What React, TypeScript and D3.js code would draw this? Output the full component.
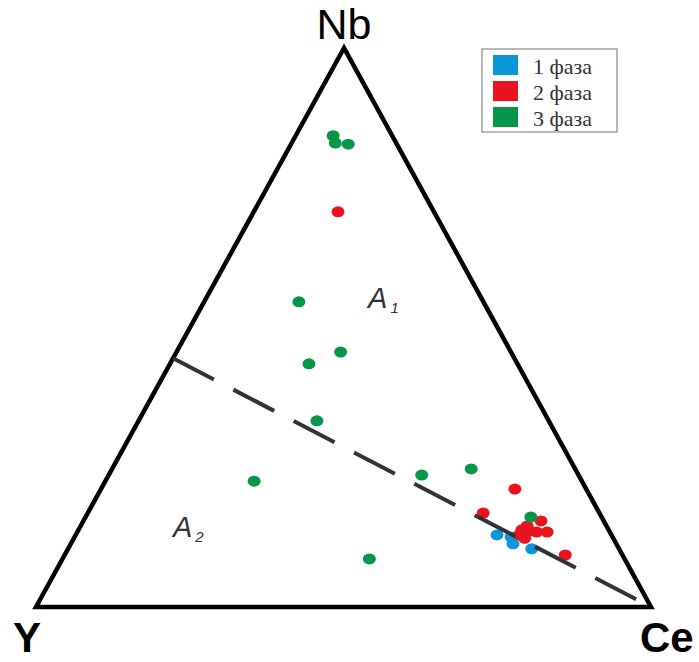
import React from 'react';
import * as d3 from 'd3';

// вершины треугольника Y - Nb - Ce
const vertexLabels = ['Nb', 'Y', 'Ce'];
const seriesNames = ['1 фаза', '2 фаза', '3 фаза'];
const seriesColors = ['#0b96d9', '#e8131d', '#06964a'];

// точки в процентах: [Nb, Ce, Y]
const phase1: number[][] = [
  [12.9, 68.5, 18.6],
  [12.5, 71.0, 16.5],
  [11.3, 71.9, 16.8],
  [10.4, 75.4, 14.2]
];
const phase2: number[][] = [
  [70.7, 13.7, 15.6],
  [21.1, 67.3, 11.6],
  [16.8, 64.3, 18.9],
  [15.4, 74.4, 10.2],
  [13.4, 76.4, 10.2],
  [13.8, 72.1, 14.1],
  [14.5, 72.6, 12.9],
  [12.9, 72.1, 15.0],
  [12.3, 73.3, 14.4],
  [13.4, 74.7, 11.9],
  [13.6, 73.5, 12.9],
  [9.3, 81.4, 9.3]
];
const phase3: number[][] = [
  [84.3, 6.1, 9.6],
  [83.0, 7.1, 9.9],
  [82.8, 9.3, 7.9],
  [54.6, 15.4, 30.0],
  [45.6, 26.7, 27.7],
  [43.5, 22.6, 33.9],
  [33.3, 29.0, 37.7],
  [22.5, 24.2, 53.3],
  [23.6, 50.9, 25.5],
  [24.7, 58.4, 16.9],
  [8.6, 49.9, 41.5],
  [16.1, 72.4, 11.5]
];
// граница полей A1 / A2: от стороны Y-Nb к вершине Ce
const boundary: number[][] = [
  [44.5, 0, 55.5],
  [0, 100, 0]
];
const fieldLabels = [
  {name: 'A', sub: '1', at: [53.5, 27.2, 19.3]},
  {name: 'A', sub: '2', at: [12.5, 16.0, 71.5]}
];

export default function App() {
  const width = 699;
  const height = 662;
  const top = {x: 344, y: 48};
  const left = {x: 36, y: 607};
  const right = {x: 651, y: 607};

  const yScale = d3.scaleLinear().domain([0, 100]).range([left.y, top.y]);
  const ceScale = d3.scaleLinear().domain([0, 100]).range([0, right.x - left.x]);
  const nbScale = d3.scaleLinear().domain([0, 100]).range([0, top.x - left.x]);

  const project = (d: number[]): [number, number] => {
    const s = d[0] + d[1] + d[2];
    const nb = (d[0] / s) * 100;
    const ce = (d[1] / s) * 100;
    return [left.x + ceScale(ce) + nbScale(nb), yScale(nb)];
  };

  const line = d3.line();
  const triangle = line([[top.x, top.y], [left.x, left.y], [right.x, right.y]]) + 'Z';
  const dash = line(boundary.map(project));

  const series = [phase1, phase2, phase3];

  return (
    <svg
      width={width}
      height={height}
      style={{position: 'absolute', left: 0, top: 0, background: '#fff'}}
    >
      <path d={triangle} fill="none" stroke="#000" strokeWidth={4.5} strokeLinejoin="miter" />

      {series.map((pts, si) =>
        pts.map((d, i) => {
          const [cx, cy] = project(d);
          return (
            <ellipse key={si + '-' + i} cx={cx} cy={cy} rx={6.5} ry={5.5} fill={seriesColors[si]} />
          );
        })
      )}

      <path d={dash} fill="none" stroke="#333" strokeWidth={4} strokeDasharray="46 22" />

      <text x={top.x} y={39} textAnchor="middle" fontFamily="Liberation Sans, Arial, sans-serif" fontSize={43}>
        {vertexLabels[0]}
      </text>
      <text x={13} y={652} fontFamily="Liberation Sans, Arial, sans-serif" fontWeight="bold" fontSize={42}>
        {vertexLabels[1]}
      </text>
      <text x={640} y={652} fontFamily="Liberation Sans, Arial, sans-serif" fontWeight="bold" fontSize={42}>
        {vertexLabels[2]}
      </text>

      {fieldLabels.map((f, i) => {
        const [x, y] = project(f.at);
        return (
          <text key={i} x={x} y={y} fill="#333" fontFamily="Liberation Sans, Arial, sans-serif" fontStyle="italic" fontSize={29}>
            {f.name}
            <tspan fontSize={15} dy={5} dx={3}>{f.sub}</tspan>
          </text>
        );
      })}

      <g transform="translate(482,49)">
        <rect width={135} height={83} fill="#fff" stroke="#8a8a8a" strokeWidth={1.2} />
        {seriesNames.map((name, i) => (
          <g key={name} transform={`translate(0,${i * 26})`}>
            <rect x={11} y={6} width={25} height={20} fill={seriesColors[i]} />
            <text x={51} y={25} fill="#333" fontFamily="Liberation Serif, Times New Roman, serif" fontSize={22}>
              {name}
            </text>
          </g>
        ))}
      </g>
    </svg>
  );
}
